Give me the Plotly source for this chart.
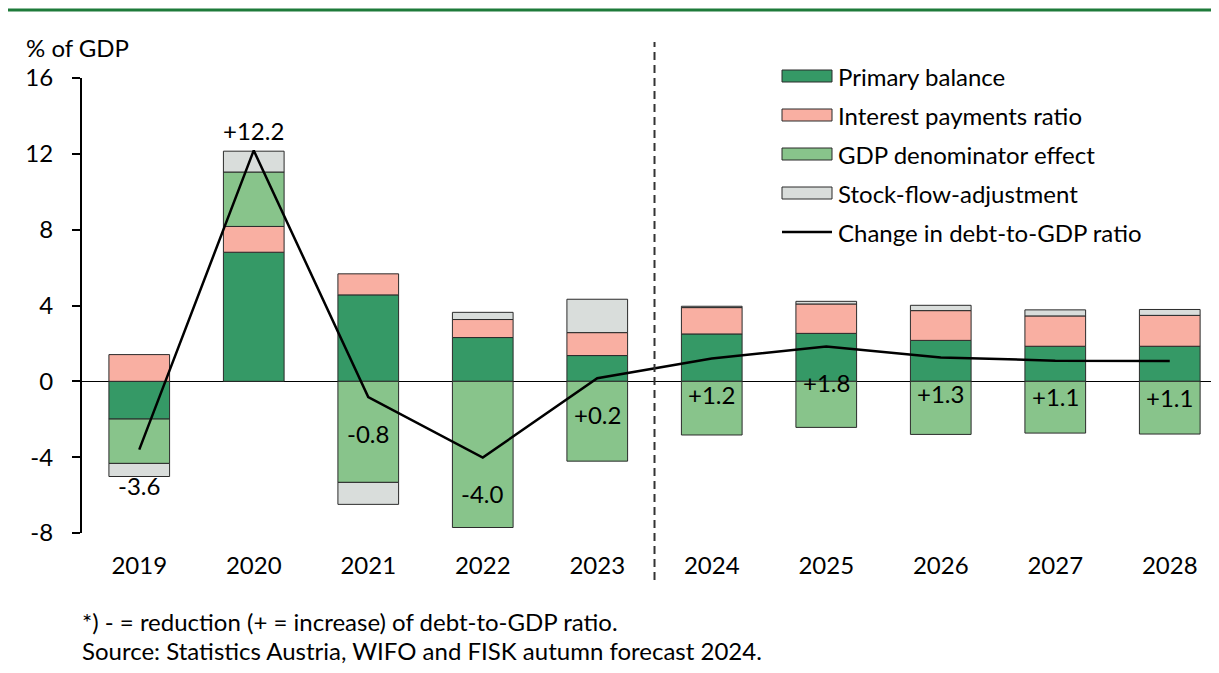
import plotly.graph_objects as go

years = ["2019", "2020", "2021", "2022", "2023", "2024", "2025", "2026", "2027", "2028"]
primary_balance = [-1.99, 6.81, 4.56, 2.31, 1.36, 2.50, 2.53, 2.16, 1.85, 1.85]
interest_payments = [1.41, 1.36, 1.11, 0.95, 1.21, 1.39, 1.55, 1.57, 1.60, 1.63]
gdp_denominator = [-2.34, 2.87, -5.33, -7.71, -4.21, -2.83, -2.43, -2.80, -2.73, -2.78]
stock_flow = [-0.69, 1.10, -1.16, 0.38, 1.76, 0.07, 0.14, 0.28, 0.32, 0.31]
debt_change = [-3.60, 12.18, -0.83, -4.02, 0.16, 1.20, 1.84, 1.26, 1.09, 1.07]
y_ticks = [-8, -4, 0, 4, 8, 12, 16]

series_names = ["Primary balance", "Interest payments ratio", "GDP denominator effect",
                "Stock-flow-adjustment", "Change in debt-to-GDP ratio"]
series_colors = ["#359966", "#F9AFA2", "#88C48B", "#D9DDDB", "#000000"]

FONT = "Lato"
FS = 24
OFF = 8  # page body margin
W, H = 1219 - OFF, 673 - 2 * OFF
ML, MR, MT = 82 - OFF, 0, 78 - OFF
PLOT_BOTTOM = 533 - OFF
MB = H - PLOT_BOTTOM
PW, PH = W - ML - MR, PLOT_BOTTOM - MT

def px_to_paper_x(px):
    return (px - OFF - ML) / PW

def px_to_paper_y(py):
    return (PLOT_BOTTOM - (py - OFF)) / PH

fig = go.Figure()
bar_data = [primary_balance, interest_payments, gdp_denominator, stock_flow]
for name, color, vals in zip(series_names[:4], series_colors[:4], bar_data):
    fig.add_trace(go.Bar(
        x=years, y=vals, name=name, width=0.53,
        marker=dict(color=color, line=dict(color="#2b2b2b", width=1)),
        showlegend=False,
    ))

fig.add_trace(go.Scatter(
    x=years, y=debt_change, mode="lines", name=series_names[4],
    line=dict(color="black", width=2.5), showlegend=False,
))

annotations = []
for i, v in enumerate(debt_change):
    txt = f"{v:+.1f}"
    shift = 20 if v > 10 else -36
    annotations.append(dict(x=i, y=v, xref="x", yref="y", text=txt, showarrow=False,
                            yshift=shift, font=dict(family=FONT, size=FS, color="black")))

shapes = []
# top green rule
shapes.append(dict(type="line", xref="paper", yref="paper",
                   x0=px_to_paper_x(7), x1=1.0, y0=px_to_paper_y(10), y1=px_to_paper_y(10),
                   line=dict(color="#1E7B3A", width=3)))
# dashed separator between actual and forecast
shapes.append(dict(type="line", xref="x", yref="paper", x0=4.5, x1=4.5,
                   y0=px_to_paper_y(580), y1=px_to_paper_y(42),
                   line=dict(color="#333333", width=2, dash="8px,5px")))

# manual legend
leg_x0, leg_x1, leg_tx = 782, 832, 836
row_y = [76, 115, 154, 193, 232]
for i, (name, color) in enumerate(zip(series_names, series_colors)):
    yc = row_y[i]
    if i < 4:
        shapes.append(dict(type="rect", xref="paper", yref="paper",
                           x0=px_to_paper_x(leg_x0), x1=px_to_paper_x(leg_x1),
                           y0=px_to_paper_y(yc + 6), y1=px_to_paper_y(yc - 6),
                           fillcolor=color, line=dict(color="#2b2b2b", width=1)))
    else:
        shapes.append(dict(type="line", xref="paper", yref="paper",
                           x0=px_to_paper_x(leg_x0), x1=px_to_paper_x(leg_x1),
                           y0=px_to_paper_y(yc), y1=px_to_paper_y(yc),
                           line=dict(color=color, width=2.5)))
    annotations.append(dict(x=px_to_paper_x(leg_tx), y=px_to_paper_y(yc), xref="paper", yref="paper",
                            text=name, showarrow=False, xanchor="left", yanchor="middle",
                            font=dict(family=FONT, size=FS, color="black")))

annotations.append(dict(x=px_to_paper_x(24), y=px_to_paper_y(47), xref="paper", yref="paper",
                        text="% of GDP", showarrow=False, xanchor="left", yanchor="middle",
                        font=dict(family=FONT, size=FS, color="black")))
annotations.append(dict(x=px_to_paper_x(80), y=px_to_paper_y(621), xref="paper", yref="paper",
                        text="*) - = reduction (+ = increase) of debt-to-GDP ratio.", showarrow=False,
                        xanchor="left", yanchor="middle",
                        font=dict(family=FONT, size=FS, color="black")))
annotations.append(dict(x=px_to_paper_x(80), y=px_to_paper_y(650), xref="paper", yref="paper",
                        text="Source: Statistics Austria, WIFO and FISK autumn forecast 2024.", showarrow=False,
                        xanchor="left", yanchor="middle",
                        font=dict(family=FONT, size=FS, color="black")))

fig.update_layout(
    width=W, height=H,
    margin=dict(l=ML, r=MR, t=MT, b=MB, pad=0),
    barmode="relative",
    plot_bgcolor="white", paper_bgcolor="white",
    font=dict(family=FONT, size=FS, color="black"),
    showlegend=False,
    shapes=shapes,
    annotations=annotations,
    xaxis=dict(type="category", range=[-0.5, 9.43], showline=False, showgrid=False,
               ticks="", zeroline=False, tickfont=dict(family=FONT, size=FS),
               ticklabelstandoff=16),
    yaxis=dict(range=[-8, 16], tickvals=y_ticks, ticktext=[str(t) for t in y_ticks],
               showgrid=False, showline=True, linecolor="black", linewidth=2,
               ticks="outside", ticklen=8, tickwidth=2, tickcolor="black",
               zeroline=True, zerolinecolor="black", zerolinewidth=1,
               tickfont=dict(family=FONT, size=FS), ticklabelstandoff=14),
)

fig.write_html("out.html")
